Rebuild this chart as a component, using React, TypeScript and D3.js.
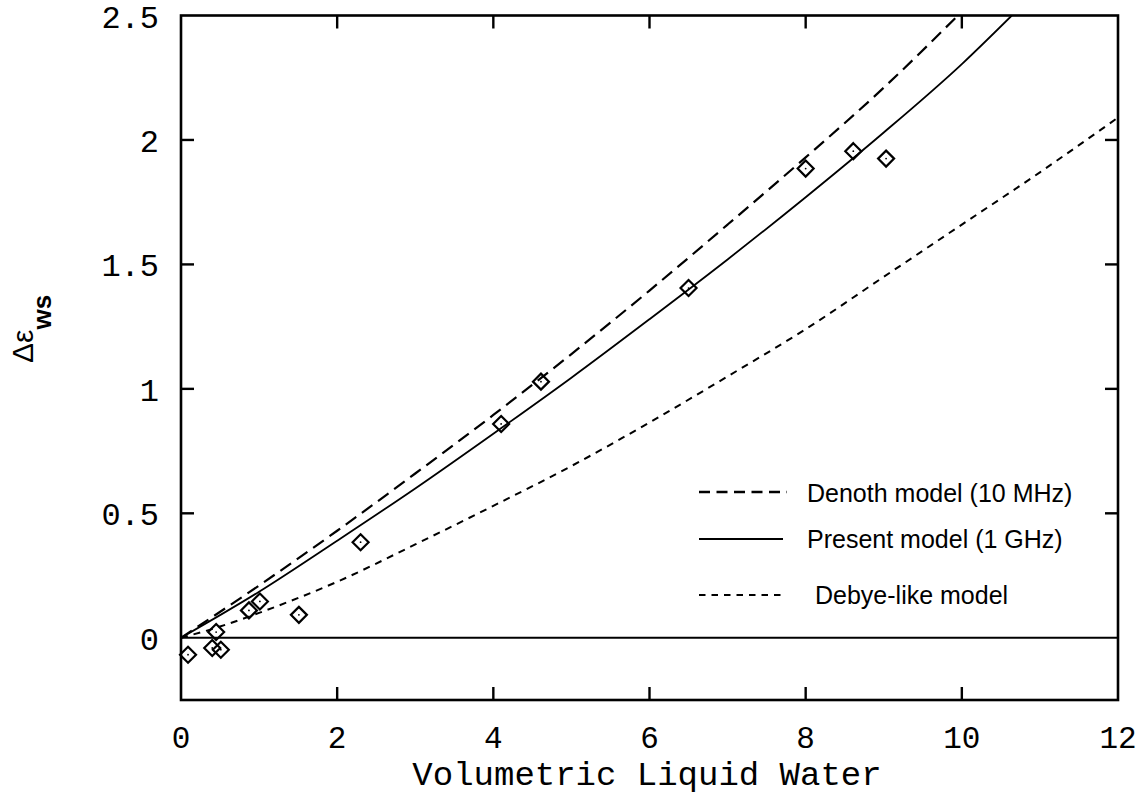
import React from 'react';
import * as d3 from 'd3';

// ---- data ----
const xTickValues = [0, 2, 4, 6, 8, 10, 12];
const xTickLabels = ['0', '2', '4', '6', '8', '10', '12'];
const yTickValues = [0, 0.5, 1, 1.5, 2, 2.5];
const yTickLabels = ['0', '0.5', '1', '1.5', '2', '2.5'];

const measuredX = [0.09, 0.4, 0.51, 0.45, 0.87, 1.01, 1.51, 2.3, 4.1, 4.61, 6.5, 8.0, 8.61, 9.03];
const measuredY = [-0.068, -0.041, -0.048, 0.023, 0.11, 0.146, 0.092, 0.384, 0.859, 1.029, 1.405, 1.885, 1.955, 1.925];

const denothX = [0, 1, 2, 3, 4, 5, 6, 7, 8, 9, 9.95];
const denothY = [0, 0.21, 0.43, 0.66, 0.895, 1.14, 1.395, 1.66, 1.93, 2.21, 2.5];

const presentX = [0, 1, 2, 3, 4, 5, 6, 7, 8, 9, 10, 10.64];
const presentY = [0, 0.185, 0.39, 0.6, 0.82, 1.045, 1.28, 1.52, 1.77, 2.03, 2.305, 2.5];

const debyeX = [0, 0.5, 1, 2, 3, 4, 5, 6, 7, 8, 9, 10, 11, 12];
const debyeY = [0, 0.045, 0.1, 0.225, 0.375, 0.53, 0.69, 0.865, 1.05, 1.24, 1.45, 1.66, 1.87, 2.09];

const legendLabels = ['Denoth model (10 MHz)', 'Present model (1 GHz)', 'Debye-like model'];

export default function App() {
  const W = 1146, H = 799;
  const left = 181, right = 1118, top = 15.5, bottom = 700;
  const x = d3.scaleLinear().domain([0, 12]).range([left, right]);
  const y = d3.scaleLinear().domain([-0.25, 2.5]).range([bottom, top]);

  const line = d3.line<[number, number]>()
    .x(d => x(d[0]))
    .y(d => y(d[1]))
    .curve(d3.curveMonotoneX);

  const zip = (a: number[], b: number[]) => a.map((v, i) => [v, b[i]] as [number, number]);

  const mono = '"Liberation Mono", "Courier New", monospace';
  const sans = '"Liberation Sans", Arial, sans-serif';
  const tickLen = 13;

  const legendRows = [
    { label: legendLabels[0], dash: '11,6.5', lineY: 492, textY: 502, textX: 807, x2: 787 },
    { label: legendLabels[1], dash: 'none', lineY: 539, textY: 548, textX: 807, x2: 783 },
    { label: legendLabels[2], dash: '6.5,6', lineY: 595, textY: 604, textX: 815, x2: 785 },
  ];

  return (
    <svg width={W} height={H} style={{ position: 'absolute', left: 0, top: 0, background: '#fff' }}>
      <defs>
        <clipPath id="plotClip">
          <rect x={left} y={top} width={right - left} height={bottom - top} />
        </clipPath>
      </defs>
      <rect x={0} y={0} width={W} height={H} fill="#fff" />

      {/* zero line */}
      <line x1={x(0)} x2={x(12)} y1={y(0)} y2={y(0)} stroke="#000" strokeWidth={1.8} />

      {/* curves */}
      <g clipPath="url(#plotClip)" fill="none" stroke="#000">
        <path d={line(zip(denothX, denothY)) || ''} strokeWidth={2.2} strokeDasharray="13,7" />
        <path d={line(zip(presentX, presentY)) || ''} strokeWidth={1.8} />
        <path d={line(zip(debyeX, debyeY)) || ''} strokeWidth={2} strokeDasharray="7,6" />
      </g>

      {/* measured points */}
      <g>
        {measuredX.map((mx, i) => {
          const cx = x(mx), cy = y(measuredY[i]);
          const r = 8;
          return (
            <g key={i}>
              <path d={`M${cx},${cy - r}L${cx + r},${cy}L${cx},${cy + r}L${cx - r},${cy}Z`} fill="none" stroke="#000" strokeWidth={2.2} />
              <circle cx={cx} cy={cy} r={0.9} fill="#000" />
            </g>
          );
        })}
      </g>

      {/* frame */}
      <rect x={left} y={top} width={right - left} height={bottom - top} fill="none" stroke="#000" strokeWidth={2.6} />

      {/* x ticks */}
      {xTickValues.slice(1, -1).map((v, i) => (
        <g key={'xt' + i}>
          <line x1={x(v)} x2={x(v)} y1={bottom} y2={bottom - tickLen} stroke="#000" strokeWidth={2.4} />
          <line x1={x(v)} x2={x(v)} y1={top} y2={top + tickLen} stroke="#000" strokeWidth={2.4} />
        </g>
      ))}
      {/* y ticks */}
      {yTickValues.slice(1, -1).map((v, i) => (
        <g key={'yt' + i}>
          <line x1={left} x2={left + tickLen} y1={y(v)} y2={y(v)} stroke="#000" strokeWidth={2.4} />
          <line x1={right} x2={right - tickLen} y1={y(v)} y2={y(v)} stroke="#000" strokeWidth={2.4} />
        </g>
      ))}

      {/* x tick labels */}
      {xTickValues.map((v, i) => (
        <text key={'xl' + i} x={x(v)} y={748} textAnchor="middle" fontFamily={mono} fontSize={31} fill="#000">
          {xTickLabels[i]}
        </text>
      ))}
      {/* y tick labels */}
      {yTickValues.map((v, i) => (
        <text key={'yl' + i} x={159} y={y(v) + 12} textAnchor="end" fontFamily={mono} fontSize={32} fill="#000">
          {yTickLabels[i]}
        </text>
      ))}

      {/* axis titles */}
      <text x={647} y={785} textAnchor="middle" fontFamily={mono} fontSize={34} fill="#000">
        Volumetric Liquid Water
      </text>
      <text transform="translate(33,363) rotate(-90)" fontFamily={sans} fontSize={30} fill="#000">
        <tspan>Δε</tspan>
        <tspan dy={18} fontSize={26} fontWeight="bold">ws</tspan>
      </text>

      {/* legend */}
      {legendRows.map((r, i) => (
        <g key={'lg' + i}>
          <line x1={699} x2={r.x2} y1={r.lineY} y2={r.lineY} stroke="#000" strokeWidth={i === 0 ? 2.6 : 1.8}
            strokeDasharray={r.dash === 'none' ? undefined : r.dash} />
          <text x={r.textX} y={r.textY} fontFamily={sans} fontSize={25} fill="#000">{r.label}</text>
        </g>
      ))}
    </svg>
  );
}
